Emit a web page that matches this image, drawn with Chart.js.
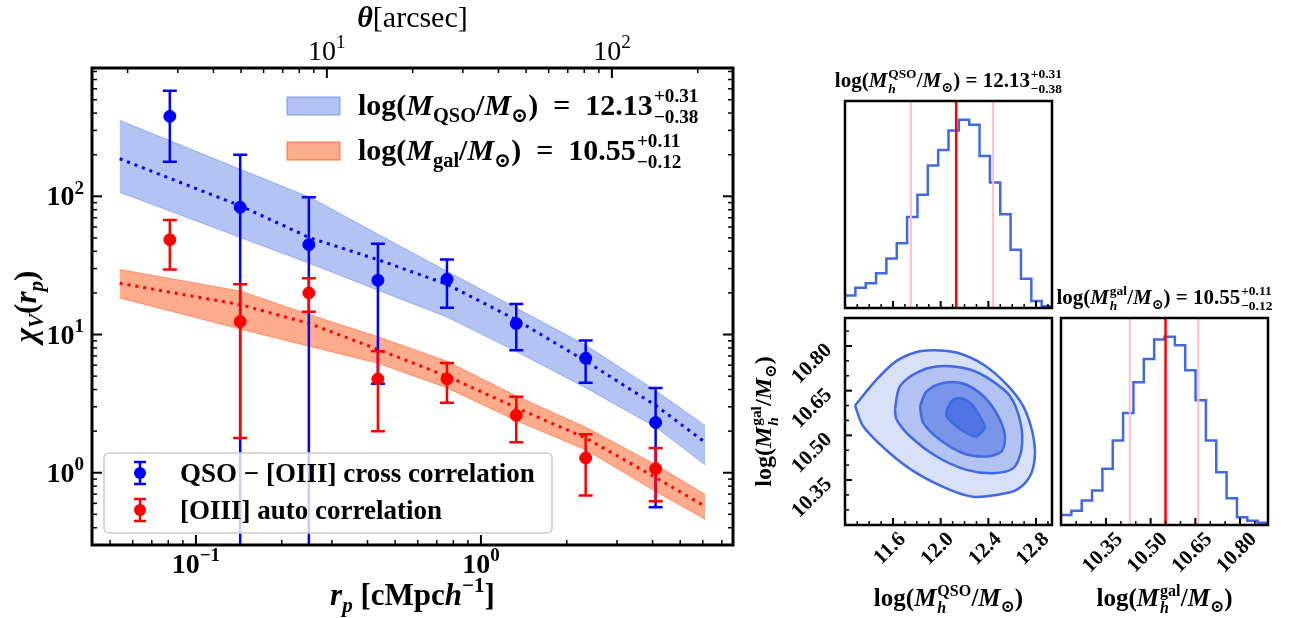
<!DOCTYPE html>
<html>
<head>
<meta charset="utf-8">
<script src="https://cdn.jsdelivr.net/npm/chart.js@4.4.1/dist/chart.umd.min.js"></script>
<style>
  body { margin: 0; background: #fff; }
  #wrap { position: relative; width: 1293px; height: 618px; overflow: hidden; background: #fff; }
  canvas { position: absolute; }
</style>
</head>
<body>
<div id="wrap">
  <canvas id="main" width="760" height="618" style="left:0;top:0"></canvas>
  <canvas id="histQso" width="300" height="260" style="left:780px;top:55px"></canvas>
  <canvas id="joint" width="330" height="313" style="left:740px;top:305px"></canvas>
  <canvas id="histGal" width="253" height="348" style="left:1040px;top:270px"></canvas>
</div>
<script>
// measured clustering (r_p in cMpc/h)
const rp = [0.081, 0.143, 0.249, 0.435, 0.76, 1.33, 2.33, 4.1];
const qsoChi = [379, 83.4, 44.7, 24.7, 25.1, 12.0, 6.74, 2.31];
const qsoHi = [581, 199.5, 98.4, 45.4, 34.9, 16.6, 9.06, 4.11];
const qsoLo = [178, 0.01, 0.01, 4.4, 15.6, 7.69, 4.47, 0.562];   // 0.01 = drops below the axis
const galChi = [48.5, 12.4, 20.0, 4.77, 4.77, 2.6, 1.28, 1.07];
const galHi = [67.4, 23.1, 25.5, 7.56, 6.21, 3.55, 1.9, 1.51];
const galLo = [29.6, 1.78, 14.6, 2.0, 3.21, 1.66, 0.685, 0.621];

// best-fit models and 1-sigma bands
const bandRp = [0.054, 0.144, 0.251, 0.433, 0.76, 1.327, 2.335, 4.11, 6.11];
const qsoModel = [187, 84.9, 50.1, 34.9, 23.1, 12.8, 6.41, 3.06, 1.66];
const qsoBandHi = [355, 156, 98.4, 53.5, 28.7, 15.6, 8.35, 3.92, 2.2];
const qsoBandLo = [107, 50.1, 32.7, 21.0, 13.4, 7.56, 4.11, 2.13, 1.14];
const galModel = [23.5, 16.4, 12.0, 7.82, 5.0, 2.96, 1.78, 0.92, 0.571];
const galBandHi = [29.6, 20.6, 13.9, 9.68, 6.41, 3.61, 2.13, 1.14, 0.697];
const galBandLo = [18.4, 10.9, 8.2, 6.21, 4.11, 2.39, 1.46, 0.73, 0.461];

// axis limits
const rpLim = [0.0432, 7.66];
const chiLim = [0.332, 848];
const thetaLim = [1.50, 266];

// posterior: 16/50/84 percentiles
const qsoLogM = [11.75, 12.13, 12.44];
const galLogM = [10.43, 10.55, 10.66];

// corner histograms (20 bins each)
const qsoRange = [11.197, 12.934];
const galRange = [10.199, 10.894];
const qsoTicks = [11.6, 12.0, 12.4, 12.8];
const galTicks = [10.35, 10.50, 10.65, 10.80];
const qsoCounts = [35, 57, 70, 98, 140, 183, 257, 320, 403, 447, 502, 532, 518, 430, 355, 265, 165, 83, 20, 5];
const galCounts = [30, 43, 73, 103, 168, 253, 335, 427, 497, 555, 563, 538, 463, 373, 253, 158, 80, 23, 13, 7];

// 2D contours (logM_QSO, logM_gal)
const contour1 = [[11.281,10.600],[11.463,10.688],[11.630,10.750],[11.798,10.780],[11.938,10.786],[12.133,10.778],[12.357,10.738],[12.553,10.671],[12.692,10.598],[12.771,10.508],[12.790,10.429],[12.748,10.362],[12.637,10.317],[12.469,10.300],[12.273,10.294],[12.078,10.317],[11.798,10.373],[11.574,10.440],[11.351,10.530]];
const contour2 = [[11.616,10.587],[11.658,10.665],[11.826,10.716],[12.022,10.733],[12.245,10.721],[12.413,10.688],[12.581,10.632],[12.670,10.542],[12.678,10.452],[12.609,10.390],[12.441,10.373],[12.217,10.384],[11.966,10.429],[11.742,10.497],[11.630,10.553]];
const contour3 = [[11.826,10.598],[11.882,10.648],[12.022,10.676],[12.189,10.674],[12.357,10.632],[12.483,10.564],[12.539,10.497],[12.511,10.446],[12.385,10.429],[12.189,10.440],[11.994,10.485],[11.854,10.542]];
const contour4 = [[12.050,10.587],[12.106,10.620],[12.189,10.623],[12.273,10.598],[12.357,10.542],[12.371,10.525],[12.301,10.497],[12.245,10.502],[12.134,10.530],[12.050,10.564]];

const SERIF = '"Liberation Serif", "DejaVu Serif", serif';
const ROYAL = '#4169e1';
const BLUE_BAND = 'rgba(65,105,225,0.4)';
const RED_BAND = 'rgba(255,69,0,0.45)';

function fnt(size, italic, weight) { return (italic ? 'italic ' : '') + (weight || 'bold') + ' ' + size + 'px ' + SERIF; }
const R = t => ({ t });
const I = t => ({ t, i: true });
const SB = (t, i) => ({ t, i, s: 0.68, d: 0.22 });
const SP = (t, i) => ({ t, i, s: 0.68, d: -0.42 });
const ST = (sup, sub, subI) => ({ st: [sup, sub], si: subI });

// draws a small math-like string: parts with italics, sub/superscripts
function mtext(ctx, parts, x, y, size, align, weight) {
  ctx.save();
  ctx.textAlign = 'left';
  ctx.textBaseline = 'alphabetic';
  const ws = parts.map(p => {
    const w = p.w || weight;
    if (p.st) {
      ctx.font = fnt(size * 0.64, false, w);
      const a = ctx.measureText(p.st[0]).width;
      ctx.font = fnt(size * 0.64, p.si, w);
      return Math.max(a, ctx.measureText(p.st[1]).width) + size * 0.05;
    }
    ctx.font = fnt(size * (p.s || 1), p.i, w);
    return ctx.measureText(p.t).width;
  });
  const tot = ws.reduce((a, b) => a + b, 0);
  let cx = align === 'center' ? x - tot / 2 : align === 'right' ? x - tot : x;
  parts.forEach((p, k) => {
    const w = p.w || weight;
    if (p.st) {
      ctx.font = fnt(size * 0.64, false, w);
      ctx.fillText(p.st[0], cx + size * 0.04, y - size * 0.42);
      ctx.font = fnt(size * 0.64, p.si, w);
      ctx.fillText(p.st[1], cx + size * 0.04, y + size * 0.28);
    } else {
      ctx.font = fnt(size * (p.s || 1), p.i, w);
      ctx.fillText(p.t, cx, y + (p.d || 0) * size);
    }
    cx += ws[k];
  });
  ctx.restore();
}

const errText = q => [(q[1]).toFixed(2), '+' + (q[2] - q[1]).toFixed(2), '−' + (q[1] - q[0]).toFixed(2)];
const qE = errText(qsoLogM), gE = errText(galLogM);

function logTicks(min, max) {
  const out = [];
  for (let e = Math.floor(Math.log10(min)); e <= Math.ceil(Math.log10(max)); e++)
    for (let k = 1; k < 10; k++) {
      const v = k * Math.pow(10, e);
      if (v >= min * 0.999 && v <= max * 1.001) out.push({ v, e, major: k === 1 });
    }
  return out;
}
function linTicks(min, max, step, majors) {
  const out = [], anchor = majors[0];
  const k0 = Math.ceil((min - anchor) / step - 1e-9), k1 = Math.floor((max - anchor) / step + 1e-9);
  for (let k = k0; k <= k1; k++) {
    const v = anchor + k * step;
    out.push({ v, major: majors.some(m => Math.abs(m - v) < step / 10) });
  }
  return out;
}
const expStr = e => (e < 0 ? '−' + (-e) : String(e));
const pts = (xs, ys) => xs.map((v, k) => ({ x: v, y: ys[k] }));

const mainDecor = {
  id: 'mainDecor',
  beforeDatasetDraw(chart, args) {
    const ds = chart.data.datasets[args.index];
    if (!ds.errHi) return;
    const { ctx, chartArea: a, scales: { x, y } } = chart;
    ctx.save();
    ctx.beginPath();
    ctx.rect(a.left, a.top, a.right - a.left, a.bottom - a.top);
    ctx.clip();
    ctx.strokeStyle = ds.borderColor;
    ctx.lineWidth = 2.5;
    ds.data.forEach((p, k) => {
      const px = x.getPixelForValue(p.x);
      const y1 = y.getPixelForValue(ds.errHi[k]), y0 = y.getPixelForValue(ds.errLo[k]);
      ctx.beginPath();
      ctx.moveTo(px, y0); ctx.lineTo(px, y1);
      ctx.moveTo(px - 7, y1); ctx.lineTo(px + 7, y1);
      ctx.moveTo(px - 7, y0); ctx.lineTo(px + 7, y0);
      ctx.stroke();
    });
    ctx.restore();
  },
  afterDraw(chart) {
    const { ctx, chartArea: a, scales: { x, y, x2 } } = chart;
    ctx.save();
    ctx.strokeStyle = '#000';
    ctx.fillStyle = '#000';
    const seg = (x0, y0, x1, y1, w) => { ctx.lineWidth = w; ctx.beginPath(); ctx.moveTo(x0, y0); ctx.lineTo(x1, y1); ctx.stroke(); };
    for (const t of logTicks(x.min, x.max)) {
      const p = x.getPixelForValue(t.v);
      seg(p, a.bottom, p, a.bottom - (t.major ? 10 : 5), t.major ? 2 : 1.5);
      if (t.major) mtext(ctx, [R('10'), SP(expStr(t.e))], p, 573, 28, 'center');
    }
    for (const t of logTicks(x2.min, x2.max)) {
      const p = x2.getPixelForValue(t.v);
      seg(p, a.top, p, a.top + (t.major ? 10 : 5), t.major ? 2 : 1.5);
      if (t.major) mtext(ctx, [R('10'), SP(expStr(t.e))], p, 60, 28, 'center', 'normal');
    }
    for (const t of logTicks(y.min, y.max)) {
      const p = y.getPixelForValue(t.v);
      const L = t.major ? 10 : 5, w = t.major ? 2 : 1.5;
      seg(a.left, p, a.left + L, p, w);
      seg(a.right, p, a.right - L, p, w);
      if (t.major) mtext(ctx, [R('10'), SP(expStr(t.e))], a.left - 8, p + 9, 28, 'right');
    }
    ctx.lineWidth = 3;
    ctx.strokeRect(a.left, a.top, a.right - a.left, a.bottom - a.top);

    const cx = (a.left + a.right) / 2;
    mtext(ctx, [I('r'), SB('p', true), R(' [cMpc'), I('h'), SP('−1'), R(']')], cx, 605, 31, 'center');
    mtext(ctx, [{ t: 'θ', i: true, w: 'bold' }, R('[arcsec]')], cx, 27, 30, 'center', 'normal');
    ctx.save();
    ctx.translate(36, (a.top + a.bottom) / 2);
    ctx.rotate(-Math.PI / 2);
    mtext(ctx, [I('χ'), SB('V', true), R('('), I('r'), SB('p', true), R(')')], 0, 0, 31, 'center');
    ctx.restore();

    // band legend
    [[BLUE_BAND, 'QSO', qE, 97], [RED_BAND, 'gal', gE, 142]].forEach(([c, lab, e, top]) => {
      ctx.fillStyle = c;
      ctx.fillRect(287, top, 53, 18);
      ctx.strokeStyle = c;
      ctx.lineWidth = 1.5;
      ctx.strokeRect(287, top, 53, 18);
      ctx.fillStyle = '#000';
      mtext(ctx, [R('log('), I('M'), SB(lab), R('/'), I('M'), SB('⊙'), R(')  =  ' + e[0]), ST(e[1], e[2])], 358, top + 18, 30, 'left');
    });

    // error-bar legend
    ctx.beginPath();
    ctx.roundRect(104, 453, 448, 80, 5);
    ctx.fillStyle = 'rgba(255,255,255,0.8)';
    ctx.fill();
    ctx.strokeStyle = '#cccccc';
    ctx.lineWidth = 1.5;
    ctx.stroke();
    [['blue', 'QSO − [OIII] cross correlation', 473], ['red', '[OIII] auto correlation', 510]].forEach(([c, txt, gy]) => {
      ctx.strokeStyle = c; ctx.fillStyle = c; ctx.lineWidth = 2.5;
      ctx.beginPath();
      ctx.moveTo(140, gy - 11); ctx.lineTo(140, gy + 11);
      ctx.moveTo(134, gy - 11); ctx.lineTo(146, gy - 11);
      ctx.moveTo(134, gy + 11); ctx.lineTo(146, gy + 11);
      ctx.stroke();
      ctx.beginPath(); ctx.arc(140, gy, 6, 0, Math.PI * 2); ctx.fill();
      ctx.fillStyle = '#000';
      mtext(ctx, [R(txt)], 180, gy + 9, 27, 'left');
    });
    ctx.restore();
  }
};

new Chart(document.getElementById('main'), {
  type: 'scatter',
  data: {
    datasets: [
      { data: pts(bandRp, galBandLo), showLine: true, borderColor: RED_BAND, borderWidth: 1, pointRadius: 0, fill: false, order: 7 },
      { data: pts(bandRp, galBandHi), showLine: true, borderColor: RED_BAND, borderWidth: 1, backgroundColor: RED_BAND, pointRadius: 0, fill: '-1', order: 6 },
      { data: pts(bandRp, qsoBandLo), showLine: true, borderColor: BLUE_BAND, borderWidth: 1, pointRadius: 0, fill: false, order: 5 },
      { data: pts(bandRp, qsoBandHi), showLine: true, borderColor: BLUE_BAND, borderWidth: 1, backgroundColor: BLUE_BAND, pointRadius: 0, fill: '-1', order: 4 },
      { data: pts(bandRp, galModel), showLine: true, borderColor: 'red', borderWidth: 3, borderDash: [3, 5], pointRadius: 0, order: 3 },
      { data: pts(bandRp, qsoModel), showLine: true, borderColor: 'blue', borderWidth: 3, borderDash: [3, 5], pointRadius: 0, order: 2 },
      { data: pts(rp, qsoChi), errHi: qsoHi, errLo: qsoLo, borderColor: 'blue', backgroundColor: 'blue', pointRadius: 6, order: 1 },
      { data: pts(rp, galChi), errHi: galHi, errLo: galLo, borderColor: 'red', backgroundColor: 'red', pointRadius: 6, order: 0 }
    ]
  },
  options: {
    responsive: false,
    animation: false,
    layout: { padding: { left: 92, top: 68, right: 27, bottom: 73 } },
    plugins: { legend: { display: false }, tooltip: { enabled: false } },
    scales: {
      x: { type: 'logarithmic', min: rpLim[0], max: rpLim[1], display: false },
      x2: { type: 'logarithmic', position: 'top', min: thetaLim[0], max: thetaLim[1], display: false },
      y: { type: 'logarithmic', min: chiLim[0], max: chiLim[1], display: false }
    }
  },
  plugins: [mainDecor]
});

// ---- corner panels ----
const TICK_FONT = 21;
function rotLabel(ctx, txt, cx, cy) {
  ctx.save();
  ctx.translate(cx, cy);
  ctx.rotate(-Math.PI / 4);
  ctx.font = fnt(TICK_FONT);
  ctx.textAlign = 'center';
  ctx.textBaseline = 'middle';
  ctx.fillText(txt, 0, 0);
  ctx.restore();
}
function halfBox(ctx, txt) {
  ctx.font = fnt(TICK_FONT);
  return (ctx.measureText(txt).width + TICK_FONT * 0.7) / (2 * Math.SQRT2);
}
function panelDecor(o) {
  return {
    id: 'panelDecor',
    afterDraw(chart) {
      const { ctx, chartArea: a, scales: { x, y } } = chart;
      ctx.save();
      ctx.strokeStyle = '#000';
      ctx.fillStyle = '#000';
      const seg = (x0, y0, x1, y1, w) => { ctx.lineWidth = w; ctx.beginPath(); ctx.moveTo(x0, y0); ctx.lineTo(x1, y1); ctx.stroke(); };
      for (const t of linTicks(x.min, x.max, o.xStep, o.xMaj)) {
        const p = x.getPixelForValue(t.v);
        seg(p, a.bottom, p, a.bottom - (t.major ? 7 : 4), t.major ? 2 : 1.5);
        if (t.major && o.xLab) {
          const s = t.v.toFixed(o.xDec), h = halfBox(ctx, s);
          rotLabel(ctx, s, p - 3, a.bottom + 6 + h);
        }
      }
      if (o.yMaj) for (const t of linTicks(y.min, y.max, o.yStep, o.yMaj)) {
        const p = y.getPixelForValue(t.v);
        seg(a.left, p, a.left + (t.major ? 7 : 4), p, t.major ? 2 : 1.5);
        if (t.major) {
          const s = t.v.toFixed(o.yDec), h = halfBox(ctx, s);
          rotLabel(ctx, s, a.left - 11 - h, p - 4 + h);
        }
      }
      ctx.lineWidth = 2.5;
      ctx.strokeRect(a.left, a.top, a.right - a.left, a.bottom - a.top);
      const cx = (a.left + a.right) / 2;
      if (o.title) mtext(ctx, o.title, cx, a.top - 14, 21, 'center');
      if (o.xTitle) mtext(ctx, o.xTitle, cx, a.bottom + 81, 25, 'center');
      if (o.yTitle) {
        ctx.save();
        ctx.translate(a.left - 74, (a.top + a.bottom) / 2);
        ctx.rotate(-Math.PI / 2);
        mtext(ctx, o.yTitle, 0, 0, 24, 'center');
        ctx.restore();
      }
      ctx.restore();
    }
  };
}

const massLabel = lab => [R('log('), I('M'), ST(lab, 'h', true), R('/'), I('M'), SB('⊙'), R(')')];
const massTitle = (lab, e) => massLabel(lab).concat([R(' = ' + e[0]), ST(e[1], e[2])]);

function histData(counts, range) {
  const w = (range[1] - range[0]) / counts.length;
  const d = counts.map((c, k) => ({ x: range[0] + k * w, y: c }));
  d.push({ x: range[1], y: counts[counts.length - 1] });
  return d;
}
function quantileSets(q, top) {
  return q.map((v, k) => ({
    data: [{ x: v, y: 0 }, { x: v, y: top }], showLine: true, pointRadius: 0,
    borderColor: k === 1 ? 'red' : 'pink', borderWidth: k === 1 ? 2.5 : 2, order: 0
  }));
}
function histChart(id, counts, range, q, pad, decor) {
  const top = 1.1 * Math.max(...counts);
  new Chart(document.getElementById(id), {
    type: 'scatter',
    data: {
      datasets: [
        { data: histData(counts, range), showLine: true, stepped: true, borderColor: ROYAL, borderWidth: 2.5, pointRadius: 0, order: 1 }
      ].concat(quantileSets(q, top))
    },
    options: {
      responsive: false, animation: false,
      layout: { padding: pad },
      plugins: { legend: { display: false }, tooltip: { enabled: false } },
      scales: {
        x: { type: 'linear', min: range[0], max: range[1], display: false },
        y: { type: 'linear', min: 0, max: top, display: false }
      }
    },
    plugins: [panelDecor(decor)]
  });
}

histChart('histQso', qsoCounts, qsoRange, qsoLogM, { left: 65, top: 46, right: 28, bottom: 7 },
  { xStep: 0.1, xMaj: qsoTicks, title: massTitle('QSO', qE) });
histChart('histGal', galCounts, galRange, galLogM, { left: 21, top: 48, right: 25, bottom: 93 },
  { xStep: 0.05, xMaj: galTicks, xDec: 2, xLab: true, title: massTitle('gal', gE), xTitle: massLabel('gal') });

const closed = c => c.concat([c[0]]).map(p => ({ x: p[0], y: p[1] }));
const levelFill = [0.2, 0.25, 0.5, 0.75];
new Chart(document.getElementById('joint'), {
  type: 'scatter',
  data: {
    datasets: [contour1, contour2, contour3, contour4].map((c, k) => ({
      data: closed(c), showLine: true, tension: 0.3, pointRadius: 0,
      borderColor: ROYAL, borderWidth: 2.5,
      backgroundColor: 'rgba(65,105,225,' + levelFill[k] + ')', fill: 'shape', order: 4 - k
    }))
  },
  options: {
    responsive: false, animation: false,
    layout: { padding: { left: 105, top: 13, right: 18, bottom: 93 } },
    plugins: { legend: { display: false }, tooltip: { enabled: false } },
    scales: {
      x: { type: 'linear', min: qsoRange[0], max: qsoRange[1], display: false },
      y: { type: 'linear', min: galRange[0], max: galRange[1], display: false }
    }
  },
  plugins: [panelDecor({ xStep: 0.1, xMaj: qsoTicks, xDec: 1, xLab: true, yStep: 0.05, yMaj: galTicks, yDec: 2,
    xTitle: massLabel('QSO'), yTitle: massLabel('gal') })]
});
</script>
</body>
</html>
